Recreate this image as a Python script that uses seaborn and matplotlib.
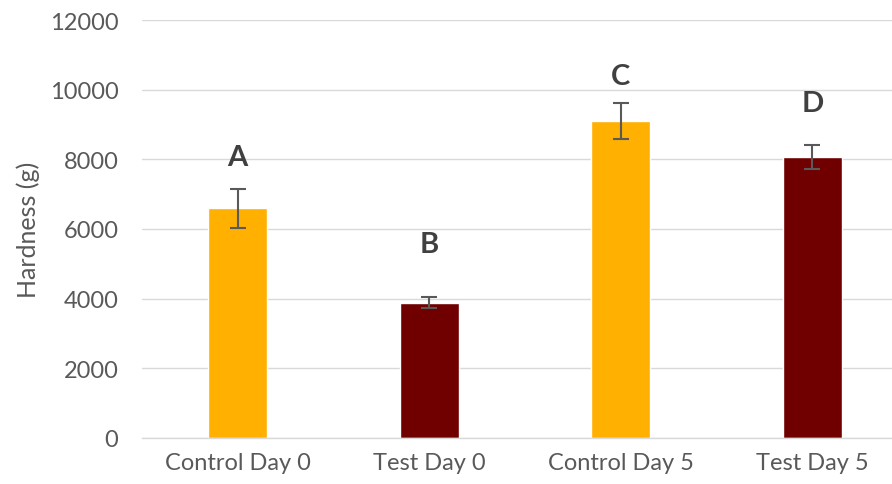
import matplotlib
matplotlib.use("Agg")
import matplotlib.pyplot as plt
import seaborn as sns
import pandas as pd

# values
groups = ["Control Day 0", "Test Day 0", "Control Day 5", "Test Day 5"]
hardness = [6600, 3885, 9110, 8065]
err = [560, 150, 515, 355]
letters = ["A", "B", "C", "D"]
letter_y = [8070, 5570, 10390, 9620]
bar_colors = ["#FFB000", "#700000", "#FFB000", "#700000"]

df = pd.DataFrame({"group": groups, "hardness": hardness})

sns.set_theme(style="white")
plt.rcParams["font.family"] = ["Lato", "DejaVu Sans"]

fig = plt.figure(figsize=(8.92, 4.85), dpi=100)
ax = fig.add_axes([142 / 892, 1 - 439 / 485, (908 - 142) / 892, (439 - 21) / 485])

sns.barplot(data=df, x="group", y="hardness", hue="group", palette=bar_colors,
            width=0.31, errorbar=None, legend=False, ax=ax, saturation=1)

ax.errorbar(range(len(groups)), hardness, yerr=err, fmt="none",
            ecolor="#595959", elinewidth=1.5, capsize=6, capthick=1.5, zorder=5)

for i, (lab, ly) in enumerate(zip(letters, letter_y)):
    ax.text(i, ly, lab, ha="center", va="center", fontsize=21,
            fontweight="bold", color="#404040")

ax.set_ylim(0, 12000)
ax.set_xlim(-0.5, 3.5)
ax.set_yticks(range(0, 12001, 2000))
ax.yaxis.grid(True, color="#D9D9D9", linewidth=1)
ax.set_axisbelow(True)
for s in ["top", "right", "left"]:
    ax.spines[s].set_visible(False)
ax.spines["bottom"].set_color("#D9D9D9")
ax.spines["bottom"].set_linewidth(1)

ax.set_xlabel("")
ax.set_ylabel("Hardness (g)", fontsize=18, color="#595959", labelpad=7)
ax.tick_params(axis="both", colors="#595959", labelsize=17, length=0)
ax.tick_params(axis="y", pad=17)
ax.tick_params(axis="x", pad=10)

fig.savefig("out.png", dpi=100)
